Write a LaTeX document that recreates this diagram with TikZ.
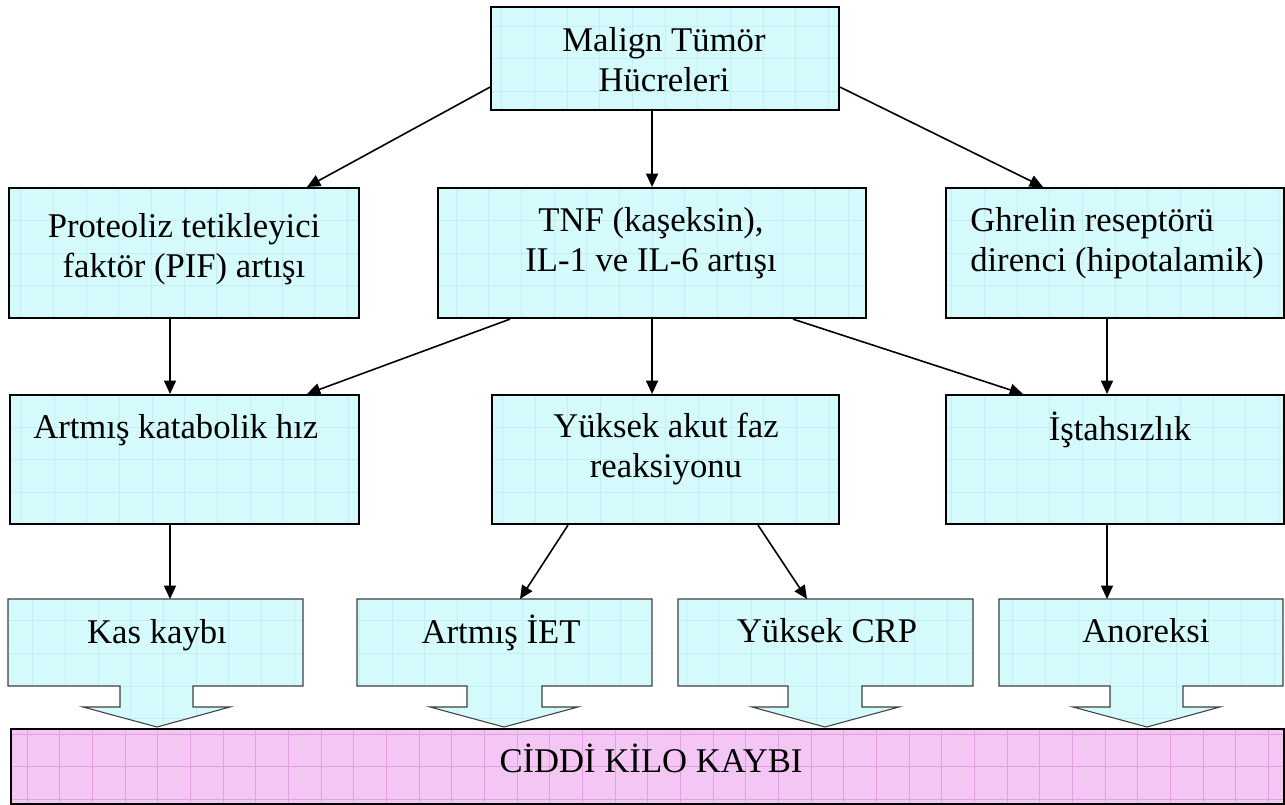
\documentclass[tikz,border=0pt]{standalone}
\usepackage{fontspec}
\setmainfont{Liberation Serif}
\usetikzlibrary{arrows.meta,calc}
\definecolor{boxcyan}{RGB}{212,250,252}
\definecolor{gridcyan}{RGB}{196,238,242}
\definecolor{boxpink}{RGB}{244,198,244}
\definecolor{gridpink}{RGB}{226,160,226}
\tikzset{
  gridfill/.style={path picture={\draw[#1, line width=0.5pt, step=24.5pt] (path picture bounding box.south west) grid (path picture bounding box.north east);}},
  box/.style={draw=black, line width=1.6pt, fill=boxcyan, gridfill=gridcyan, inner sep=0pt, anchor=north west},
  pinkbox/.style={draw=black, line width=1.6pt, fill=boxpink, gridfill=gridpink, inner sep=0pt, anchor=north west},
  calloutshape/.style={draw=black!75, line width=0.8pt, fill=boxcyan, gridfill=gridcyan},
  cbox/.style={inner sep=0pt, anchor=north west},
  txt/.style={font=\fontsize{26}{30}\selectfont, align=center, inner sep=0pt},
  arr/.style={line width=1.2pt, -{Triangle[length=10pt,width=9pt]}},
}
\newcommand{\mycallout}[7]{%
  \path[calloutshape] (#1,599) -- (#2,599) -- (#2,686) -- (#4,686) -- (#4,707) -- (#6,707) -- (#7,727) -- (#5,707) -- (#3,707) -- (#3,686) -- (#1,686) -- cycle;}
\begin{document}
\begin{tikzpicture}[x=0.75pt,y=-0.75pt]
\useasboundingbox[fill=white] (0,0) rectangle (1285,805);

% main boxes
\node[box, minimum width=348*0.75pt, minimum height=103*0.75pt] (mt) at (490,6) {};
\node[box, minimum width=350*0.75pt, minimum height=130*0.75pt] (pif) at (8,187) {};
\node[box, minimum width=428*0.75pt, minimum height=130*0.75pt] (tnf) at (437,187) {};
\node[box, minimum width=338*0.75pt, minimum height=130*0.75pt] (ghr) at (945,187) {};
\node[box, minimum width=349*0.75pt, minimum height=129*0.75pt] (kat) at (9,394) {};
\node[box, minimum width=347*0.75pt, minimum height=129*0.75pt] (yak) at (491,394) {};
\node[box, minimum width=338*0.75pt, minimum height=129*0.75pt] (ist) at (945,394) {};

% bottom box
\node[pinkbox, minimum width=1273*0.75pt, minimum height=75*0.75pt] (ck) at (10,728) {};

% callouts
\mycallout{8}{303}{120}{193}{83}{230}{157}
\mycallout{357}{652}{467}{542}{430}{578}{504}
\mycallout{678}{973}{788}{862}{752}{899}{825}
\mycallout{999}{1283}{1110}{1183}{1073}{1220}{1147}
\node[cbox, minimum width=295*0.75pt, minimum height=87*0.75pt] (kas) at (8,599) {};
\node[cbox, minimum width=295*0.75pt, minimum height=87*0.75pt] (iet) at (357,599) {};
\node[cbox, minimum width=295*0.75pt, minimum height=87*0.75pt] (crp) at (678,599) {};
\node[cbox, minimum width=284*0.75pt, minimum height=87*0.75pt] (ano) at (999,599) {};

% texts
\node[txt] (mtt) at (664,64) {\strut Malign Tümör\\\strut Hücreleri};
\node[txt] (pift) at (184,250) {\strut Proteoliz tetikleyici\\\strut faktör (PIF) artışı};
\node[txt] (tnft) at (651,244) {\strut TNF (kaşeksin),\\\strut IL-1 ve IL-6 artışı};
\node[txt, align=left, anchor=west] (ghrt) at (970,244) {\strut Ghrelin reseptörü\\\strut direnci (hipotalamik)};
\node[txt, anchor=west] (katt) at (33,430) {\strut Artmış katabolik hız};
\node[txt] (yakt) at (666,449) {\strut Yüksek akut faz\\\strut reaksiyonu};
\node[txt] (istt) at (1120,432) {\strut İştahsızlık};
\node[txt] (kast) at (157,635) {\strut Kas kaybı};
\node[txt] (iett) at (501,635) {\strut Artmış İET};
\node[txt] (crpt) at (827,634) {\strut Yüksek CRP};
\node[txt] (anot) at (1146,634) {\strut Anoreksi};
\node[txt] (ckt) at (651,764) {\strut CİDDİ KİLO KAYBI};

% connectors
\draw[arr] ($(mt.south west)+(0,-24)$) -- ($(pif.north west)+(299,0)$);
\draw[arr] (mt.south -| tnf.north) -- (tnf.north);
\draw[arr] ($(mt.south east)+(0,-24)$) -- ($(ghr.north west)+(98,0)$);
\draw[arr] ($(pif.south west)+(162,0)$) -- ($(kat.north west)+(161,0)$);
\draw[arr] ($(tnf.south west)+(73,0)$) -- ($(kat.north west)+(298,0)$);
\draw[arr] (tnf.south) -- (tnf.south |- yak.north);
\draw[arr] ($(tnf.south west)+(356,0)$) -- ($(ist.north west)+(78,0)$);
\draw[arr] ($(ghr.south west)+(162,0)$) -- ($(ist.north west)+(162,0)$);
\draw[arr] ($(kat.south west)+(161,0)$) -- ($(kas.north west)+(162,0)$);
\draw[arr] ($(yak.south west)+(77,0)$) -- ($(iet.north west)+(163,0)$);
\draw[arr] ($(yak.south west)+(267,0)$) -- ($(crp.north west)+(129,0)$);
\draw[arr] ($(ist.south west)+(162,0)$) -- ($(ano.north west)+(108,0)$);
\end{tikzpicture}
\end{document}
